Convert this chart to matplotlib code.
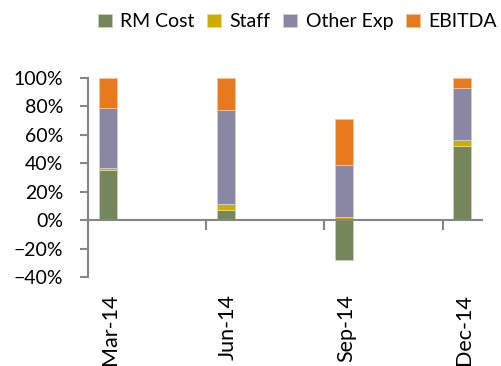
import matplotlib.pyplot as plt
import numpy as np
from matplotlib.ticker import FixedLocator, PercentFormatter

plt.rcParams['font.family'] = ['Lato', 'DejaVu Sans']

quarters = ["Mar-14", "Jun-14", "Sep-14", "Dec-14"]
month_index = [0, 3, 6, 9]  # months since Mar-14
series = ["RM Cost", "Staff", "Other Exp", "EBITDA"]
rm_cost = [35.0, 7.0, -28.2, 52.1]
staff = [1.5, 4.3, 2.3, 4.2]
other_exp = [42.2, 66.0, 36.4, 36.9]
ebitda = [21.3, 22.7, 32.2, 6.8]
colors = ["#75865C", "#CDAD00", "#8A87A4", "#E87A1E"]
edges = ["#C9D0BE", "#E6D98A", "#CFCDDC", "#F3C49C"]

fig = plt.figure(figsize=(5.01, 3.66), dpi=100)
ax = fig.add_axes([0.1756, 0.2432, 0.7864, 0.5437])

x = np.array(month_index, dtype=float)
pos = np.zeros(len(x))
neg = np.zeros(len(x))
for name, vals, c, ec in zip(series, [rm_cost, staff, other_exp, ebitda], colors, edges):
    v = np.array(vals)
    bottom = np.where(v >= 0, pos, neg)
    ax.bar(x, v, width=0.46, bottom=bottom, color=c, edgecolor=ec,
           linewidth=0.6, label=name, zorder=2)
    pos += np.where(v >= 0, v, 0)
    neg += np.where(v < 0, v, 0)

ax.set_xlim(-0.5, 9.5)
ax.set_ylim(-40, 100)
ax.set_yticks(np.arange(-40, 101, 20))
ax.yaxis.set_major_formatter(PercentFormatter(decimals=0))

for s in ["top", "right"]:
    ax.spines[s].set_visible(False)
ax.spines["bottom"].set_position(("data", 0))
for s in ["left", "bottom"]:
    ax.spines[s].set_color("#868686")
    ax.spines[s].set_linewidth(1.5)
    ax.spines[s].set_zorder(3)

ax.tick_params(axis="y", direction="out", length=6, width=1.5, color="#868686",
               labelsize=14, pad=12, labelcolor="black")
ax.xaxis.set_major_locator(FixedLocator([2.5, 5.5, 8.5]))
ax.tick_params(axis="x", direction="out", length=7, width=1.5, color="#868686",
               labelbottom=False)

# quarter labels sit below the plot area, not under the zero line
trans = ax.get_xaxis_transform()
for xi, lab in zip(month_index, quarters):
    ax.text(xi + 0.05, -0.085, lab, transform=trans, rotation=90, ha="center",
            va="top", fontsize=15.5)

fig.legend(loc="center", bbox_to_anchor=(0.594, 0.94), ncol=4, frameon=False,
           fontsize=14, handlelength=0.7, handleheight=0.7, handletextpad=0.45,
           columnspacing=0.65, borderaxespad=0)

fig.savefig("out.png", dpi=100)
